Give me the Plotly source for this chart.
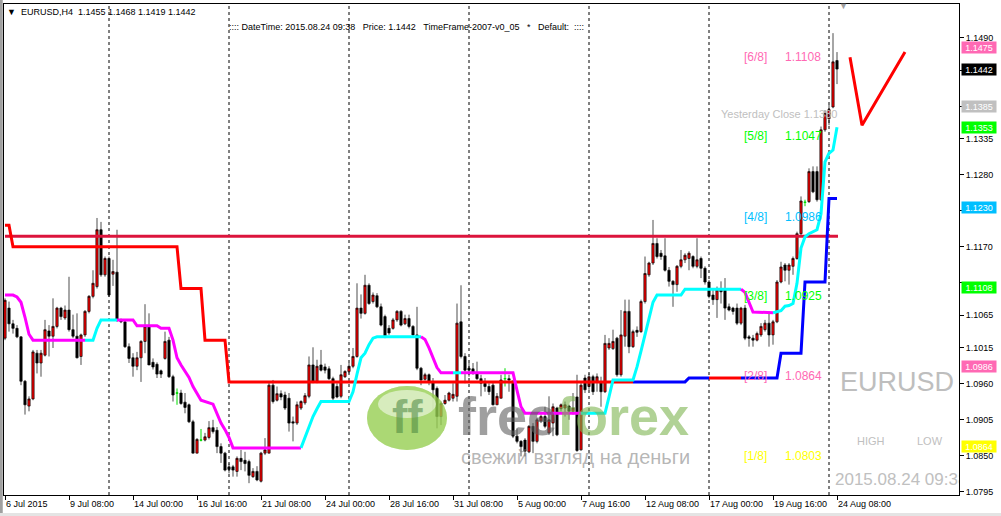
import plotly.graph_objects as go

# H4 bars, EURUSD, 6 Jul 16:00 .. 24 Aug 08:00 (bar index = position on chart)
opens = [1.1030, 1.1076, 1.1052, 1.1045, 1.1032, 1.0964, 1.0926, 1.0937, 1.1007, 1.0992,
         1.1004, 1.1041, 1.1033, 1.1048, 1.1076, 1.1061, 1.1073, 1.1043, 1.1033, 1.1002,
         1.1035, 1.1071, 1.1094, 1.1109, 1.1196, 1.1127, 1.1152, 1.1128, 1.1131, 1.1058,
         1.1055, 1.1017, 1.1000, 1.0987, 1.1000, 1.1025, 1.1048, 1.0993, 1.0990, 1.0980,
         1.0999, 1.1027, 1.0971, 1.0946, 1.0946, 1.0932, 1.0928, 1.0902, 1.0854, 1.0874,
         1.0874, 1.0878, 1.0893, 1.0889, 1.0864, 1.0854, 1.0833, 1.0833, 1.0826, 1.0846,
         1.0843, 1.0841, 1.0818, 1.0826, 1.0811, 1.0854, 1.0854, 1.0958, 1.0935, 1.0945,
         1.0943, 1.0938, 1.0902, 1.0900, 1.0923, 1.0931, 1.0941, 1.0989, 1.0964, 1.0989,
         1.0986, 1.0983, 1.0968, 1.0956, 1.0941, 1.0971, 1.0979, 1.0987, 1.1002, 1.1076,
         1.1068, 1.1111, 1.1086, 1.1095, 1.1078, 1.1063, 1.1045, 1.1045, 1.1058, 1.1071,
         1.1052, 1.1060, 1.1048, 1.1035, 1.0984, 1.0967, 1.0974, 1.0963, 1.0953, 1.0910,
         1.0930, 1.0935, 1.0938, 1.0941, 1.1055, 1.1002, 1.0984, 1.0983, 1.0976, 1.0968,
         1.0961, 1.0956, 1.0958, 1.0928, 1.0938, 1.0968, 1.0968, 1.0961, 1.0880, 1.0872,
         1.0874, 1.0856, 1.0895, 1.0872, 1.0903, 1.0910, 1.0885, 1.0900, 1.0923, 1.0922,
         1.0923, 1.0926, 1.0918, 1.0940, 1.0859, 1.0969, 1.0956, 1.0971, 1.0963, 1.0963,
         1.0948, 1.1015, 1.1014, 1.1030, 1.0974, 1.1033, 1.1071, 1.1017, 1.1042, 1.1040,
         1.1086, 1.1127, 1.1145, 1.1175, 1.1160, 1.1156, 1.1134, 1.1117, 1.1112, 1.1140,
         1.1150, 1.1152, 1.1155, 1.1140, 1.1152, 1.1137, 1.1116, 1.1096, 1.1089, 1.1104,
         1.1104, 1.1078, 1.1076, 1.1076, 1.1053, 1.1076, 1.1032, 1.1030, 1.1027, 1.1035,
         1.1043, 1.1053, 1.1035, 1.1055, 1.1116, 1.1142, 1.1134, 1.1140, 1.1152, 1.1190,
         1.1238, 1.1239, 1.1285, 1.1285, 1.1242, 1.1349, 1.1366, 1.1384, 1.1455]
highs = [1.1091, 1.1086, 1.1058, 1.1050, 1.1033, 1.0966, 1.0941, 1.1012, 1.1012, 1.1012,
         1.1058, 1.1050, 1.1091, 1.1078, 1.1078, 1.1080, 1.1124, 1.1066, 1.1068, 1.1037,
         1.1073, 1.1096, 1.1134, 1.1214, 1.1208, 1.1155, 1.1155, 1.1150, 1.1196, 1.1060,
         1.1058, 1.1022, 1.1007, 1.1009, 1.1027, 1.1082, 1.1068, 1.0999, 1.0993, 1.0982,
         1.1040, 1.1032, 1.0974, 1.0953, 1.0951, 1.0946, 1.0930, 1.0905, 1.0877, 1.0891,
         1.0885, 1.0903, 1.0905, 1.0894, 1.0869, 1.0856, 1.0838, 1.0836, 1.0849, 1.0859,
         1.0856, 1.0844, 1.0831, 1.0834, 1.0856, 1.0877, 1.0963, 1.0966, 1.0956, 1.0950,
         1.0948, 1.0946, 1.0910, 1.0933, 1.0935, 1.0946, 1.1002, 1.1016, 1.0997, 1.1012,
         1.0991, 1.0987, 1.0971, 1.0961, 1.0989, 1.0981, 1.0992, 1.1015, 1.1114, 1.1097,
         1.1127, 1.1114, 1.1100, 1.1099, 1.1083, 1.1066, 1.1050, 1.1061, 1.1073, 1.1073,
         1.1066, 1.1066, 1.1050, 1.1078, 1.0986, 1.0977, 1.0976, 1.0969, 1.0956, 1.0933,
         1.0943, 1.0948, 1.0961, 1.1083, 1.1111, 1.1007, 1.0992, 1.0992, 1.0994, 1.0974,
         1.0969, 1.0961, 1.0962, 1.0946, 1.0974, 1.0984, 1.0974, 1.0966, 1.0892, 1.0874,
         1.0877, 1.0897, 1.0900, 1.0908, 1.0913, 1.0925, 1.0941, 1.0930, 1.0925, 1.0930,
         1.0933, 1.0928, 1.0946, 1.0974, 1.0963, 1.0974, 1.0976, 1.0974, 1.0976, 1.0971,
         1.1035, 1.1030, 1.1043, 1.1032, 1.1073, 1.1089, 1.1089, 1.1043, 1.1048, 1.1089,
         1.1155, 1.1147, 1.1211, 1.1183, 1.1165, 1.1183, 1.1139, 1.1119, 1.1142, 1.1165,
         1.1160, 1.1163, 1.1157, 1.1183, 1.1155, 1.1140, 1.1119, 1.1104, 1.1109, 1.1117,
         1.1122, 1.1083, 1.1078, 1.1083, 1.1078, 1.1081, 1.1035, 1.1035, 1.1040, 1.1053,
         1.1058, 1.1071, 1.1058, 1.1119, 1.1147, 1.1145, 1.1145, 1.1155, 1.1193, 1.1247,
         1.1242, 1.1290, 1.1293, 1.1293, 1.1354, 1.1379, 1.1387, 1.1497, 1.1468]
lows = [1.1027, 1.1040, 1.1037, 1.1030, 1.0958, 1.0913, 1.0918, 1.0935, 1.0976, 1.0971,
        1.1002, 1.1002, 1.1015, 1.1045, 1.1058, 1.1058, 1.1040, 1.1030, 1.0999, 1.0989,
        1.1032, 1.1068, 1.1091, 1.1106, 1.1124, 1.1124, 1.1093, 1.1110, 1.1055, 1.1053,
        1.1015, 1.0992, 1.0971, 1.0981, 1.0963, 1.1007, 1.0989, 1.0982, 1.0969, 1.0969,
        1.0997, 1.0969, 1.0933, 1.0928, 1.0928, 1.0915, 1.0900, 1.0854, 1.0854, 1.0872,
        1.0872, 1.0875, 1.0884, 1.0854, 1.0839, 1.0826, 1.0823, 1.0818, 1.0818, 1.0828,
        1.0826, 1.0808, 1.0816, 1.0811, 1.0809, 1.0851, 1.0854, 1.0930, 1.0933, 1.0935,
        1.0920, 1.0887, 1.0872, 1.0897, 1.0920, 1.0928, 1.0938, 1.0961, 1.0961, 1.0979,
        1.0976, 1.0966, 1.0935, 1.0938, 1.0938, 1.0969, 1.0976, 1.0984, 1.1000, 1.1060,
        1.1066, 1.1081, 1.1083, 1.1076, 1.1048, 1.1030, 1.1035, 1.1043, 1.1055, 1.1048,
        1.1050, 1.1045, 1.1032, 1.0981, 1.0958, 1.0965, 1.0958, 1.0920, 1.0892, 1.0897,
        1.0928, 1.0933, 1.0933, 1.0933, 1.0999, 1.0961, 1.0971, 1.0974, 1.0966, 1.0941,
        1.0948, 1.0943, 1.0927, 1.0928, 1.0938, 1.0956, 1.0948, 1.0877, 1.0869, 1.0849,
        1.0849, 1.0854, 1.0854, 1.0869, 1.0900, 1.0892, 1.0882, 1.0880, 1.0880, 1.0918,
        1.0910, 1.0905, 1.0913, 1.0856, 1.0858, 1.0946, 1.0951, 1.0943, 1.0948, 1.0925,
        1.0946, 1.1012, 1.1012, 1.0971, 1.0971, 1.1017, 1.1007, 1.1015, 1.1032, 1.1038,
        1.1083, 1.1124, 1.1142, 1.1152, 1.1150, 1.1132, 1.1109, 1.1078, 1.1101, 1.1137,
        1.1145, 1.1134, 1.1137, 1.1137, 1.1122, 1.1112, 1.1091, 1.1081, 1.1061, 1.1083,
        1.1058, 1.1071, 1.1066, 1.1050, 1.1050, 1.1027, 1.1017, 1.1017, 1.1025, 1.1032,
        1.1040, 1.1017, 1.1020, 1.1053, 1.1114, 1.1117, 1.1112, 1.1127, 1.1150, 1.1188,
        1.1232, 1.1237, 1.1252, 1.1239, 1.1240, 1.1346, 1.1356, 1.1382, 1.1419]
closes = [1.1088, 1.1052, 1.1045, 1.1032, 1.0964, 1.0928, 1.0937, 1.1009, 1.0992, 1.1007,
          1.1043, 1.1033, 1.1048, 1.1076, 1.1063, 1.1073, 1.1043, 1.1033, 1.1000, 1.1035,
          1.1071, 1.1094, 1.1114, 1.1196, 1.1127, 1.1152, 1.1096, 1.1132, 1.1058, 1.1055,
          1.1017, 1.0999, 1.0987, 1.1000, 1.1025, 1.1048, 1.0989, 1.0986, 1.0975, 1.0975,
          1.1025, 1.0971, 1.0943, 1.0946, 1.0930, 1.0924, 1.0902, 1.0854, 1.0875, 1.0874,
          1.0879, 1.0893, 1.0887, 1.0864, 1.0854, 1.0828, 1.0829, 1.0828, 1.0846, 1.0841,
          1.0838, 1.0820, 1.0826, 1.0813, 1.0854, 1.0859, 1.0958, 1.0933, 1.0945, 1.0940,
          1.0923, 1.0900, 1.0900, 1.0928, 1.0933, 1.0942, 1.0989, 1.0964, 1.0987, 1.0981,
          1.0981, 1.0968, 1.0938, 1.0940, 1.0974, 1.0979, 1.0987, 1.1002, 1.1076, 1.1068,
          1.1111, 1.1083, 1.1096, 1.1078, 1.1050, 1.1032, 1.1038, 1.1058, 1.1071, 1.1050,
          1.1060, 1.1048, 1.1035, 1.0984, 1.0966, 1.0974, 1.0963, 1.0951, 1.0910, 1.0930,
          1.0935, 1.0946, 1.0944, 1.1053, 1.1002, 1.0981, 1.0981, 1.0978, 1.0968, 1.0961,
          1.0956, 1.0948, 1.0928, 1.0941, 1.0966, 1.0968, 1.0966, 1.0880, 1.0872, 1.0864,
          1.0857, 1.0895, 1.0872, 1.0905, 1.0910, 1.0895, 1.0905, 1.0925, 1.0882, 1.0928,
          1.0928, 1.0918, 1.0923, 1.0858, 1.0958, 1.0951, 1.0971, 1.0948, 1.0971, 1.0948,
          1.1022, 1.1022, 1.1025, 1.0974, 1.1035, 1.1071, 1.1017, 1.1040, 1.1039, 1.1086,
          1.1129, 1.1145, 1.1175, 1.1155, 1.1155, 1.1134, 1.1117, 1.1112, 1.1140, 1.1150,
          1.1157, 1.1160, 1.1140, 1.1150, 1.1137, 1.1116, 1.1094, 1.1089, 1.1104, 1.1101,
          1.1076, 1.1073, 1.1071, 1.1053, 1.1076, 1.1030, 1.1030, 1.1027, 1.1037, 1.1048,
          1.1053, 1.1035, 1.1055, 1.1116, 1.1139, 1.1134, 1.1142, 1.1152, 1.1190, 1.1240,
          1.1238, 1.1285, 1.1254, 1.1242, 1.1349, 1.1374, 1.1380, 1.1453, 1.1442]
doji_bars = [43, 49, 125, 200]

x_tick_bars = [0, 16, 32, 48, 64, 80, 96, 112, 128, 144, 160, 176, 192, 208]
x_tick_text = ['6 Jul 2015', '9 Jul 08:00', '14 Jul 00:00', '16 Jul 16:00', '21 Jul 08:00',
               '24 Jul 00:00', '28 Jul 16:00', '31 Jul 08:00', '5 Aug 00:00', '7 Aug 16:00',
               '12 Aug 08:00', '17 Aug 00:00', '19 Aug 16:00', '24 Aug 08:00']
week_sep_bars = [26, 56, 86, 116, 146, 176, 206]
y_ticks = [1.1490, 1.1440, 1.1385, 1.1335, 1.1280, 1.1225, 1.1170, 1.1115, 1.1065,
           1.1015, 1.0960, 1.0905, 1.0850, 1.0795]
y_ticks_hidden = [1.1440, 1.1385, 1.1225, 1.1115]   # covered by the price boxes

# Murrey math levels
mm_levels = [1.1475, 1.1353, 1.1230, 1.1108, 1.0986, 1.0864]
mm_names = ['[6/8]', '[5/8]', '[4/8]', '[3/8]', '[2/8]', '[1/8]']
mm_values = ['1.1108', '1.1047', '1.0986', '1.0925', '1.0864', '1.0803']
mm_colors = ['#FF69B4', '#00FF00', '#00BFFF', '#00FF00', '#FF69B4', '#FFFF00']
bid_price = 1.1442
yesterday_close = 1.1385
pivot_line = 1.1186

# trailing lines as (bar, price) breakpoints, one list per coloured run
slow_runs = [
    ('#FF0000', [0, 1, 2, 43, 44, 49, 50, 55, 56, 157],
     [1.1203, 1.1203, 1.1170, 1.1170, 1.1106, 1.1106, 1.1027, 1.1027, 1.0963, 1.0963]),
    ('#0000FF', [157, 170, 171, 176], [1.0963, 1.0963, 1.0969, 1.0969]),
    ('#FF0000', [176, 184], [1.0969, 1.0969]),
    ('#0000FF', [184, 193, 194, 199, 200, 205, 206, 208],
     [1.0969, 1.0969, 1.1007, 1.1007, 1.1116, 1.1116, 1.1244, 1.1244]),
]
fast_runs = [
    ('#FF00FF', [0, 2, 3, 4, 5, 6, 7, 20],
     [1.1096, 1.1096, 1.1093, 1.1085, 1.1062, 1.1036, 1.1027, 1.1027]),
    ('#00FFFF', [20, 22, 23, 24, 28], [1.1027, 1.1027, 1.1045, 1.1058, 1.1058]),
    ('#FF00FF', [28, 32, 33, 38, 39, 41, 42, 43, 44, 46, 47, 48, 49, 52, 53, 54, 55, 56, 57, 74],
     [1.1058, 1.1058, 1.1049, 1.1049, 1.1045, 1.1045, 1.1027, 1.1000, 1.0989, 1.0970, 1.0956,
      1.0945, 1.0935, 1.0929, 1.0915, 1.0900, 1.0890, 1.0878, 1.0862, 1.0862]),
    ('#00FFFF', [74, 75, 76, 77, 78, 79, 86, 87, 88, 89, 90, 91, 92, 93, 104],
     [1.0862, 1.0878, 1.0895, 1.0910, 1.0922, 1.0933, 1.0933, 1.0948, 1.0975, 1.1000, 1.1007,
      1.1020, 1.1030, 1.1032, 1.1032]),
    ('#FF00FF', [104, 105, 106, 107, 108, 109, 112],
     [1.1032, 1.1028, 1.1015, 1.1000, 1.0985, 1.0977, 1.0977]),
    ('#00FFFF', [112, 114], [1.0977, 1.0977]),
    ('#FF00FF', [114, 127, 128, 129, 130, 144], [1.0977, 1.0977, 1.0950, 1.0925, 1.0915, 1.0915]),
    ('#00FFFF', [144, 150, 151, 152, 157, 158, 159, 160, 161, 162, 163, 169, 170, 184],
     [1.0915, 1.0915, 1.0940, 1.0966, 1.0966, 1.0986, 1.1010, 1.1035, 1.1060, 1.1085, 1.1096,
      1.1096, 1.1105, 1.1105]),
    ('#FF00FF', [184, 185, 186, 187, 192], [1.1105, 1.1100, 1.1085, 1.1070, 1.1069]),
    ('#00FFFF', [192, 194, 195, 196, 197, 198, 199, 200, 201, 202, 203, 204, 205, 206, 207, 208],
     [1.1069, 1.1072, 1.1079, 1.1080, 1.1083, 1.1114, 1.1168, 1.1185, 1.1190, 1.1193, 1.1196,
      1.1220, 1.1300, 1.1313, 1.1318, 1.1353]),
]
# hand drawn V on the right
v_bars = [211.25, 214.25, 225.0]
v_prices = [1.1460, 1.1356, 1.1468]

# right-axis price boxes
box_prices = [1.1475, 1.1442, 1.1385, 1.1353, 1.1230, 1.1108, 1.0986, 1.0864]
box_colors = ['#FF69B4', '#000000', '#C0C0C0', '#00FF00', '#00BFFF', '#00FF00', '#FF69B4', '#FFFF00']

FONT = 'Liberation Sans, Arial, sans-serif'
W, H = 1001, 516
L, R, T, B = 4, 42, 4, 21
Y_RANGE = [1.07899, 1.15416]


def px(x):
    return (x - L) / (W - L - R)


def py(y):
    return (H - B - y) / (H - T - B)


fig = go.Figure()

# week separators
sep_x, sep_y = [], []
for b in week_sep_bars:
    sep_x += [b, b, None]
    sep_y += [Y_RANGE[0], Y_RANGE[1], None]
fig.add_trace(go.Scatter(x=sep_x, y=sep_y, mode='lines', hoverinfo='skip',
                         line=dict(color='black', width=1, dash='3px,3px')))

# level lines (under the bars)
for lvl, col in zip(mm_levels, mm_colors):
    fig.add_hline(y=lvl, line=dict(color=col, width=2), layer='below')
fig.add_hline(y=bid_price, line=dict(color='#778899', width=1), layer='below')
fig.add_hline(y=yesterday_close, line=dict(color='#C0C0C0', width=1), layer='below')

fig.add_trace(go.Scatter(x=[0, len(closes) - 0.75], y=[pivot_line, pivot_line], mode='lines',
                         line=dict(color='#DC143C', width=3), hoverinfo='skip'))

idx = [i for i in range(len(closes)) if i not in doji_bars]
fig.add_trace(go.Candlestick(
    x=idx, open=[opens[i] for i in idx], high=[highs[i] for i in idx],
    low=[lows[i] for i in idx], close=[closes[i] for i in idx],
    increasing=dict(fillcolor='#FF0000', line=dict(color='black', width=0.7)),
    decreasing=dict(fillcolor='black', line=dict(color='black', width=0.7)),
    whiskerwidth=0, hoverinfo='skip'))
fig.add_trace(go.Candlestick(
    x=doji_bars, open=[opens[i] for i in doji_bars], high=[highs[i] for i in doji_bars],
    low=[lows[i] for i in doji_bars], close=[closes[i] for i in doji_bars],
    increasing=dict(fillcolor='#00DD00', line=dict(color='#00DD00', width=1)),
    decreasing=dict(fillcolor='#00DD00', line=dict(color='#00DD00', width=1)),
    whiskerwidth=0, hoverinfo='skip'))

for col, xs, ys in slow_runs + fast_runs:
    fig.add_trace(go.Scatter(x=xs, y=ys, mode='lines', line=dict(color=col, width=3),
                             hoverinfo='skip'))

fig.add_trace(go.Scatter(x=v_bars, y=v_prices, mode='lines', line=dict(color='#FF0000', width=3),
                         hoverinfo='skip'))

# clipped corner text
fig.add_trace(go.Scatter(x=[207.5], y=[1.0812], mode='text', text=['2015.08.24 09:38'],
                         textposition='middle right', cliponaxis=True,
                         textfont=dict(family=FONT, size=17, color='#C0C0C0'), hoverinfo='skip'))

ann = []
# Murrey labels
for lvl, name, val, col in zip(mm_levels, mm_names, mm_values, mm_colors):
    ann.append(dict(xref='paper', yref='y', x=px(742), y=lvl, yshift=-9, text=name,
                    xanchor='left', yanchor='middle', showarrow=False,
                    font=dict(family=FONT, size=12, color=col)))
    ann.append(dict(xref='paper', yref='y', x=px(783), y=lvl, yshift=-9, text=val,
                    xanchor='left', yanchor='middle', showarrow=False,
                    font=dict(family=FONT, size=12, color=col)))
ann.append(dict(xref='paper', yref='y', x=px(719), y=yesterday_close, yshift=-8,
                text='Yesterday Close 1.1380', xanchor='left', yanchor='middle', showarrow=False,
                font=dict(family=FONT, size=11, color='#C0C0C0')))

# price boxes on the right axis
for p, col in zip(box_prices, box_colors):
    ann.append(dict(xref='paper', yref='y', x=px(961), y=p, text=f'{p:.4f}', xanchor='left',
                    yanchor='middle', showarrow=False, bgcolor=col, width=34, height=11,
                    borderpad=0, align='center', font=dict(family=FONT, size=9, color='white')))

# header
ann.append(dict(xref='paper', yref='paper', x=px(5), y=py(12), text='▼', xanchor='left',
                yanchor='middle', showarrow=False, font=dict(family=FONT, size=9, color='black')))
ann.append(dict(xref='paper', yref='paper', x=px(19), y=py(12),
                text='EURUSD,H4  1.1455 1.1468 1.1419 1.1442', xanchor='left',
                yanchor='middle', showarrow=False, font=dict(family=FONT, size=9, color='black')))
ann.append(dict(xref='paper', yref='paper', x=px(227), y=py(27),
                text=':::: DateTime: 2015.08.24 09:38&nbsp;&nbsp;&nbsp;Price: 1.1442&nbsp;&nbsp;&nbsp;'
                     'TimeFrame-2007-v0_05&nbsp;&nbsp;&nbsp;*&nbsp;&nbsp;&nbsp;Default:&nbsp;&nbsp;::::',
                xanchor='left', yanchor='middle', showarrow=False,
                font=dict(family=FONT, size=9, color='black')))
ann.append(dict(xref='paper', yref='paper', x=px(843), y=py(6), text='▼', xanchor='center',
                yanchor='middle', showarrow=False, font=dict(family=FONT, size=9, color='#A0A0A0')))

# symbol watermark bottom right
ann.append(dict(xref='paper', yref='paper', x=px(838), y=py(382), text='EURUSD', xanchor='left',
                yanchor='middle', showarrow=False, font=dict(family=FONT, size=27, color='#BEBEBE')))
ann.append(dict(xref='paper', yref='paper', x=px(855), y=py(441), text='HIGH', xanchor='left',
                yanchor='middle', showarrow=False, font=dict(family=FONT, size=11, color='#C0C0C0')))
ann.append(dict(xref='paper', yref='paper', x=px(915), y=py(441), text='LOW', xanchor='left',
                yanchor='middle', showarrow=False, font=dict(family=FONT, size=11, color='#C0C0C0')))

# freeforex watermark
ann.append(dict(xref='paper', yref='paper', x=px(407), y=py(417), text='<b>ff</b>',
                xanchor='center', yanchor='middle', showarrow=False,
                font=dict(family=FONT, size=46, color='rgba(70,130,60,0.55)')))
ann.append(dict(xref='paper', yref='paper', x=px(456), y=py(416),
                text='<b><span style="color:rgba(95,95,95,0.6)">free</span>'
                     '<span style="color:rgba(125,180,80,0.6)">forex</span></b>',
                xanchor='left', yanchor='middle', showarrow=False,
                font=dict(family=FONT, size=54)))
ann.append(dict(xref='paper', yref='paper', x=px(459), y=py(457), text='свежий взгляд на деньги',
                xanchor='left', yanchor='middle', showarrow=False,
                font=dict(family=FONT, size=20, color='rgba(120,120,120,0.55)')))

shapes = [
    dict(type='circle', xref='paper', yref='paper', x0=px(367), x1=px(447), y0=py(450), y1=py(386),
         fillcolor='rgba(150,205,80,0.55)', line=dict(width=0), layer='above'),
    dict(type='circle', xref='paper', yref='paper', x0=px(378), x1=px(436), y0=py(418), y1=py(390),
         fillcolor='rgba(255,255,255,0.45)', line=dict(width=0), layer='above'),
    # window frame strips
    dict(type='rect', xref='paper', yref='paper', x0=px(0), x1=px(2.5), y0=py(H), y1=py(0),
         fillcolor='#A0A0A0', line=dict(width=0), layer='above'),
    dict(type='rect', xref='paper', yref='paper', x0=px(0), x1=px(W), y0=py(H), y1=py(513),
         fillcolor='#E4E4E4', line=dict(width=0), layer='above'),
]

fig.update_layout(
    width=W, height=H, margin=dict(l=L, r=R, t=T, b=B),
    paper_bgcolor='white', plot_bgcolor='white', showlegend=False,
    annotations=ann, shapes=shapes, boxgap=0.2,
    font=dict(family=FONT, size=9, color='black'),
    xaxis=dict(range=[-0.25, 238.5], rangeslider=dict(visible=False), showgrid=False,
               zeroline=False, tickmode='array', tickvals=x_tick_bars, ticktext=x_tick_text,
               ticks='outside', ticklen=4, tickcolor='black', ticklabelposition='outside right',
               showline=True, linecolor='black', linewidth=1, mirror=True,
               tickfont=dict(family=FONT, size=9, color='black')),
    yaxis=dict(range=Y_RANGE, side='right', showgrid=False, zeroline=False,
               tickmode='array', tickvals=y_ticks,
               ticktext=['' if v in y_ticks_hidden else f'{v:.4f}' for v in y_ticks],
               ticks='outside', ticklen=4, tickcolor='black', showline=True, linecolor='black',
               linewidth=1, mirror=True, tickfont=dict(family=FONT, size=9, color='black')),
)

fig.write_html("out.html", config={'displayModeBar': False},
               post_script="document.body.style.margin='0';")
